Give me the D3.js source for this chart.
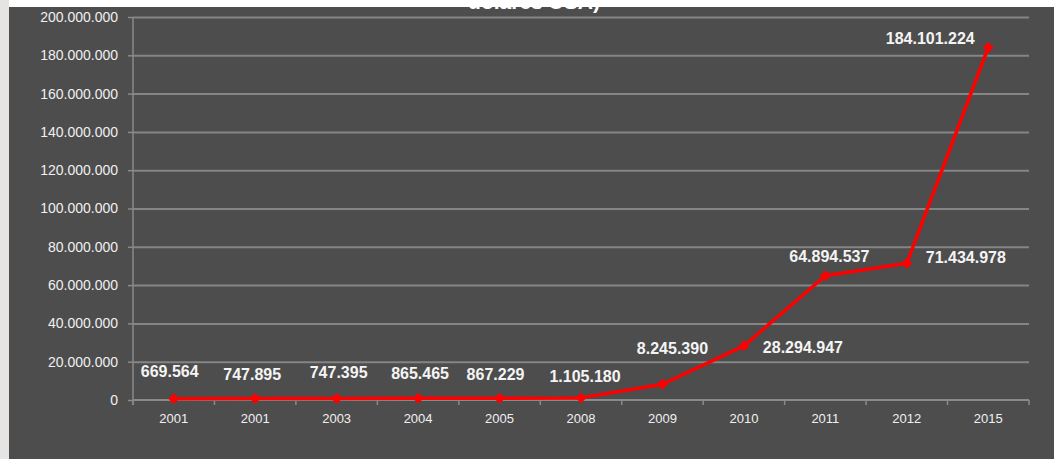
<!DOCTYPE html>
<html>
<head>
  <meta charset="utf-8">
  <title>dolares USA</title>
  <style type="text/css">
    html, body { margin: 0; padding: 0; background: #4d4d4d; }
    svg { display: block; }
  </style>
  <script src="https://d3js.org/d3.v7.min.js"></script>
</head>
<body>
  <div id="chart"></div>
  <script>
    // datos
    var years = ["2001", "2001", "2003", "2004", "2005", "2008", "2009", "2010", "2011", "2012", "2015"];
    var values = [669564, 747895, 747395, 865465, 867229, 1105180, 8245390, 28294947, 64894537, 71434978, 184101224];
    var yTicks = [0, 20e6, 40e6, 60e6, 80e6, 100e6, 120e6, 140e6, 160e6, 180e6, 200e6];
    // desplazamiento de cada etiqueta respecto a su punto
    var labelOffsets = [[-4, -27], [-3, -24], [2, -26], [2, -25], [-4, -24], [4, -21], [10, -36], [59, 2], [4, -19], [59, -6], [-58, -9]];

    var W = 1054, H = 459;
    var plotLeft = 133, plotRight = 1029, plotTop = 17, plotBottom = 400;

    var svg = d3.select("#chart").append("svg")
      .attr("width", W)
      .attr("height", H);

    svg.append("rect").attr("width", W).attr("height", H).attr("fill", "#4d4d4d");

    var fmt = d3.formatLocale({ decimal: ",", thousands: ".", grouping: [3], currency: ["", ""] }).format(",d");

    var x = d3.scaleBand().domain(d3.range(years.length)).range([plotLeft, plotRight]);
    var y = d3.scaleLinear().domain([0, 200e6]).range([plotBottom, plotTop]);

    // grid
    svg.append("g")
      .attr("transform", "translate(" + plotLeft + ",0)")
      .call(d3.axisLeft(y).tickValues(yTicks.slice(1)).tickSize(-(plotRight - plotLeft)).tickFormat(""))
      .call(g => g.select(".domain").remove())
      .call(g => g.selectAll("line").attr("stroke", "#858585").attr("stroke-width", 2));

    // y axis
    var yAxis = svg.append("g")
      .attr("transform", "translate(" + plotLeft + ",0)")
      .call(d3.axisLeft(y).tickValues(yTicks).tickSize(5).tickPadding(10).tickFormat(fmt));
    yAxis.select(".domain").attr("stroke", "#8a8a8a").attr("stroke-width", 1.5)
      .attr("d", "M0," + plotTop + "V" + (plotBottom + 5));
    yAxis.selectAll("line").attr("stroke", "#8a8a8a").attr("stroke-width", 1.5);
    yAxis.selectAll("text")
      .attr("fill", "#f0f0f0")
      .attr("font-family", "Liberation Sans, Arial, sans-serif")
      .attr("font-size", 14);

    // x axis
    var xAxis = svg.append("g")
      .attr("transform", "translate(0," + plotBottom + ")")
      .call(d3.axisBottom(x).tickSize(0).tickPadding(14).tickFormat(i => years[i]));
    xAxis.select(".domain").attr("stroke", "#8a8a8a").attr("stroke-width", 2)
      .attr("d", "M" + plotLeft + ",0H" + plotRight);
    xAxis.selectAll("text")
      .attr("fill", "#f0f0f0")
      .attr("font-family", "Liberation Sans, Arial, sans-serif")
      .attr("font-size", 13);
    xAxis.selectAll(".sep")
      .data(d3.range(years.length + 1))
      .join("line")
      .attr("class", "sep")
      .attr("x1", i => plotLeft + i * x.step())
      .attr("x2", i => plotLeft + i * x.step())
      .attr("y1", 0)
      .attr("y2", 5)
      .attr("stroke", "#8a8a8a")
      .attr("stroke-width", 1.5);

    var cx = i => x(i) + x.bandwidth() / 2;

    // linea
    var line = d3.line().x((d, i) => cx(i)).y(d => y(d));
    svg.append("path")
      .datum(values)
      .attr("d", line)
      .attr("fill", "none")
      .attr("stroke", "#ff0000")
      .attr("stroke-width", 3.5)
      .attr("stroke-linejoin", "round");

    svg.selectAll(".pt")
      .data(values)
      .join("path")
      .attr("class", "pt")
      .attr("d", d3.symbol(d3.symbolSquare, 60))
      .attr("transform", (d, i) => "translate(" + cx(i) + "," + y(d) + ") rotate(45)")
      .attr("fill", "#ff0000");

    // etiquetas
    svg.selectAll(".lbl")
      .data(values)
      .join("text")
      .attr("class", "lbl")
      .attr("x", (d, i) => cx(i) + labelOffsets[i][0])
      .attr("y", (d, i) => y(d) + labelOffsets[i][1])
      .attr("dy", "0.35em")
      .attr("text-anchor", "middle")
      .attr("font-family", "Liberation Sans, Arial, sans-serif")
      .attr("font-weight", "bold")
      .attr("font-size", 16)
      .attr("fill", "#f4f4f4")
      .text(d => fmt(d));

    // titulo (recortado por arriba)
    svg.append("text")
      .attr("x", 534)
      .attr("y", 9)
      .attr("text-anchor", "middle")
      .attr("font-family", "Liberation Sans, Arial, sans-serif")
      .attr("font-weight", "bold")
      .attr("font-size", 21)
      .attr("fill", "#ffffff")
      .text("dolares USA)");

    svg.append("rect").attr("x", 0).attr("y", 0).attr("width", W).attr("height", 7).attr("fill", "#ffffff");
    svg.append("rect").attr("x", 0).attr("y", 0).attr("width", 9).attr("height", H).attr("fill", "#e6e4e2");
  </script>
</body>
</html>
